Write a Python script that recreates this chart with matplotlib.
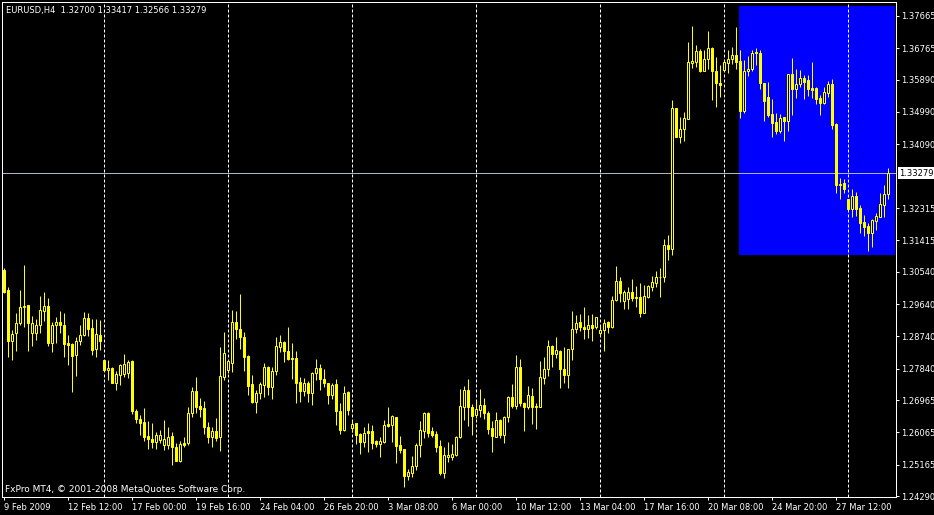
import matplotlib
matplotlib.use("Agg")
import matplotlib.pyplot as plt
from matplotlib.patches import Rectangle
import numpy as np

# EURUSD H4 candles
opens = [1.3059, 1.3003, 1.2861, 1.2883, 1.2911, 1.2956, 1.2961, 1.2883, 1.2883, 1.2906,
         1.2945, 1.2958, 1.2855, 1.2906, 1.2914, 1.2906, 1.2855, 1.2853, 1.2822, 1.2861,
         1.2878, 1.2925, 1.2897, 1.2839, 1.2878, 1.2808, 1.2780, 1.2786, 1.2744, 1.2766,
         1.2769, 1.2772, 1.2805, 1.2666, 1.2644, 1.2635, 1.2596, 1.2588, 1.2580, 1.2585,
         1.2571, 1.2571, 1.2596, 1.2566, 1.2527, 1.2577, 1.2577, 1.2660, 1.2722, 1.2680,
         1.2674, 1.2621, 1.2594, 1.2610, 1.2594, 1.2761, 1.2780, 1.2800, 1.2914, 1.2894,
         1.2872, 1.2819, 1.2741, 1.2691, 1.2716, 1.2738, 1.2789, 1.2733, 1.2777, 1.2844,
         1.2858, 1.2833, 1.2814, 1.2814, 1.2747, 1.2722, 1.2744, 1.2716, 1.2772, 1.2786,
         1.2755, 1.2744, 1.2711, 1.2741, 1.2666, 1.2613, 1.2719, 1.2619, 1.2633, 1.2602,
         1.2580, 1.2610, 1.2610, 1.2582, 1.2574, 1.2580, 1.2630, 1.2627, 1.2649, 1.2571,
         1.2560, 1.2485, 1.2493, 1.2513, 1.2571, 1.2610, 1.2660, 1.2610, 1.2602, 1.2568,
         1.2493, 1.2538, 1.2538, 1.2543, 1.2594, 1.2677, 1.2725, 1.2677, 1.2655, 1.2669,
         1.2683, 1.2660, 1.2619, 1.2594, 1.2641, 1.2599, 1.2649, 1.2705, 1.2680, 1.2789,
         1.2688, 1.2677, 1.2708, 1.2677, 1.2677, 1.2758, 1.2783, 1.2847, 1.2825, 1.2833,
         1.2783, 1.2766, 1.2839, 1.2894, 1.2914, 1.2900, 1.2894, 1.2906, 1.2900, 1.2883,
         1.2892, 1.2914, 1.2900, 1.2975, 1.3028, 1.2972, 1.2978, 1.2998, 1.2984, 1.2984,
         1.2939, 1.2984, 1.3011, 1.3023, 1.3040, 1.3039, 1.3128, 1.3117, 1.3510, 1.3429,
         1.3452, 1.3479, 1.3635, 1.3638, 1.3669, 1.3613, 1.3647, 1.3677, 1.3613, 1.3580,
         1.3616, 1.3635, 1.3647, 1.3658, 1.3641, 1.3502, 1.3613, 1.3619, 1.3666, 1.3663,
         1.3580, 1.3541, 1.3493, 1.3471, 1.3446, 1.3485, 1.3474, 1.3605, 1.3563, 1.3577,
         1.3594, 1.3588, 1.3566, 1.3566, 1.3538, 1.3524, 1.3552, 1.3577, 1.3466, 1.3298,
         1.3301, 1.3257, 1.3229, 1.3265, 1.3232, 1.3193, 1.3181, 1.3162, 1.3195, 1.3206,
         1.3240, 1.32700]
highs = [1.3064, 1.3011, 1.2892, 1.2939, 1.3003, 1.3073, 1.2961, 1.2931, 1.2922, 1.2986,
         1.2998, 1.2981, 1.2914, 1.2928, 1.2945, 1.2939, 1.2878, 1.2855, 1.2872, 1.2906,
         1.2942, 1.2939, 1.2922, 1.2922, 1.2920, 1.2808, 1.2808, 1.2789, 1.2777, 1.2797,
         1.2825, 1.2808, 1.2808, 1.2672, 1.2655, 1.2674, 1.2638, 1.2633, 1.2607, 1.2613,
         1.2641, 1.2621, 1.2607, 1.2577, 1.2582, 1.2594, 1.2677, 1.2733, 1.2761, 1.2702,
         1.2694, 1.2635, 1.2621, 1.2647, 1.2844, 1.2886, 1.2808, 1.2947, 1.2945, 1.2992,
         1.2886, 1.2822, 1.2766, 1.2725, 1.2747, 1.2800, 1.2791, 1.2789, 1.2872, 1.2878,
         1.2861, 1.2900, 1.2855, 1.2833, 1.2761, 1.2758, 1.2750, 1.2775, 1.2811, 1.2797,
         1.2783, 1.2744, 1.2744, 1.2755, 1.2688, 1.2736, 1.2722, 1.2641, 1.2633, 1.2605,
         1.2621, 1.2633, 1.2627, 1.2585, 1.2594, 1.2641, 1.2677, 1.2655, 1.2649, 1.2596,
         1.2560, 1.2504, 1.2541, 1.2577, 1.2638, 1.2663, 1.2663, 1.2621, 1.2610, 1.2585,
         1.2566, 1.2580, 1.2574, 1.2596, 1.2727, 1.2736, 1.2755, 1.2685, 1.2697, 1.2727,
         1.2702, 1.2666, 1.2638, 1.2663, 1.2644, 1.2652, 1.2708, 1.2741, 1.2822, 1.2811,
         1.2691, 1.2736, 1.2730, 1.2688, 1.2805, 1.2816, 1.2864, 1.2850, 1.2872, 1.2836,
         1.2844, 1.2839, 1.2945, 1.2933, 1.2936, 1.2956, 1.2933, 1.2936, 1.2928, 1.2903,
         1.2922, 1.2917, 1.2986, 1.3070, 1.3039, 1.3003, 1.3011, 1.3034, 1.3014, 1.3023,
         1.3017, 1.3017, 1.3042, 1.3056, 1.3064, 1.3145, 1.3156, 1.3532, 1.3510, 1.3485,
         1.3499, 1.3694, 1.3739, 1.3686, 1.3675, 1.3672, 1.3725, 1.3680, 1.3652, 1.3630,
         1.3644, 1.3672, 1.3680, 1.3736, 1.3672, 1.3644, 1.3655, 1.3672, 1.3677, 1.3672,
         1.3580, 1.3583, 1.3535, 1.3496, 1.3493, 1.3485, 1.3605, 1.3649, 1.3619, 1.3616,
         1.3602, 1.3602, 1.3638, 1.3569, 1.3546, 1.3569, 1.3585, 1.3591, 1.3468, 1.3315,
         1.3312, 1.3257, 1.3284, 1.3276, 1.3240, 1.3212, 1.3190, 1.3201, 1.3218, 1.3273,
         1.3296, 1.33417]
lows = [1.2995, 1.2816, 1.2808, 1.2833, 1.2906, 1.2900, 1.2833, 1.2847, 1.2864, 1.2883,
        1.2917, 1.2847, 1.2830, 1.2855, 1.2883, 1.2816, 1.2794, 1.2719, 1.2764, 1.2850,
        1.2875, 1.2875, 1.2822, 1.2816, 1.2836, 1.2780, 1.2752, 1.2744, 1.2725, 1.2738,
        1.2761, 1.2758, 1.2658, 1.2633, 1.2599, 1.2582, 1.2560, 1.2563, 1.2560, 1.2577,
        1.2557, 1.2560, 1.2516, 1.2527, 1.2524, 1.2566, 1.2571, 1.2649, 1.2660, 1.2649,
        1.2602, 1.2577, 1.2566, 1.2582, 1.2555, 1.2752, 1.2772, 1.2775, 1.2867, 1.2839,
        1.2777, 1.2711, 1.2688, 1.2660, 1.2699, 1.2705, 1.2711, 1.2699, 1.2766, 1.2830,
        1.2802, 1.2808, 1.2755, 1.2688, 1.2691, 1.2708, 1.2691, 1.2683, 1.2752, 1.2725,
        1.2733, 1.2685, 1.2699, 1.2627, 1.2602, 1.2610, 1.2655, 1.2607, 1.2574, 1.2546,
        1.2566, 1.2552, 1.2560, 1.2566, 1.2538, 1.2577, 1.2621, 1.2580, 1.2521, 1.2549,
        1.2454, 1.2474, 1.2482, 1.2502, 1.2538, 1.2591, 1.2594, 1.2594, 1.2552, 1.2488,
        1.2479, 1.2524, 1.2529, 1.2541, 1.2591, 1.2641, 1.2624, 1.2599, 1.2647, 1.2649,
        1.2644, 1.2602, 1.2552, 1.2594, 1.2591, 1.2577, 1.2635, 1.2674, 1.2672, 1.2680,
        1.2610, 1.2672, 1.2630, 1.2616, 1.2677, 1.2741, 1.2764, 1.2789, 1.2814, 1.2730,
        1.2744, 1.2730, 1.2808, 1.2883, 1.2889, 1.2867, 1.2869, 1.2861, 1.2894, 1.2875,
        1.2833, 1.2883, 1.2897, 1.2972, 1.2970, 1.2950, 1.2950, 1.2972, 1.2956, 1.2928,
        1.2939, 1.2981, 1.3000, 1.3011, 1.2984, 1.3025, 1.3087, 1.3101, 1.3429, 1.3413,
        1.3418, 1.3479, 1.3622, 1.3624, 1.3611, 1.3613, 1.3619, 1.3532, 1.3513, 1.3541,
        1.3613, 1.3608, 1.3633, 1.3619, 1.3482, 1.3496, 1.3599, 1.3613, 1.3630, 1.3563,
        1.3474, 1.3485, 1.3429, 1.3438, 1.3440, 1.3418, 1.3446, 1.3491, 1.3538, 1.3569,
        1.3535, 1.3544, 1.3538, 1.3521, 1.3491, 1.3521, 1.3541, 1.3452, 1.3273, 1.3257,
        1.3273, 1.3229, 1.3206, 1.3209, 1.3162, 1.3154, 1.3112, 1.3123, 1.3170, 1.3206,
        1.3206, 1.32566]
closes = [1.2998, 1.2861, 1.2881, 1.2911, 1.2956, 1.2958, 1.2911, 1.2911, 1.2906, 1.2947,
          1.2958, 1.2855, 1.2906, 1.2914, 1.2906, 1.2853, 1.2850, 1.2819, 1.2861, 1.2878,
          1.2925, 1.2894, 1.2836, 1.2881, 1.2861, 1.2780, 1.2786, 1.2744, 1.2769, 1.2794,
          1.2797, 1.2802, 1.2666, 1.2644, 1.2633, 1.2594, 1.2588, 1.2580, 1.2599, 1.2599,
          1.2588, 1.2594, 1.2566, 1.2527, 1.2574, 1.2571, 1.2660, 1.2722, 1.2677, 1.2672,
          1.2621, 1.2594, 1.2610, 1.2591, 1.2764, 1.2828, 1.2805, 1.2914, 1.2894, 1.2872,
          1.2816, 1.2736, 1.2691, 1.2716, 1.2741, 1.2789, 1.2733, 1.2777, 1.2847, 1.2858,
          1.2833, 1.2811, 1.2811, 1.2744, 1.2722, 1.2744, 1.2716, 1.2772, 1.2786, 1.2755,
          1.2744, 1.2711, 1.2738, 1.2666, 1.2613, 1.2716, 1.2669, 1.2630, 1.2599, 1.2580,
          1.2605, 1.2605, 1.2577, 1.2574, 1.2582, 1.2627, 1.2624, 1.2652, 1.2568, 1.2557,
          1.2485, 1.2496, 1.2513, 1.2571, 1.2613, 1.2660, 1.2605, 1.2599, 1.2566, 1.2493,
          1.2543, 1.2543, 1.2546, 1.2594, 1.2680, 1.2725, 1.2677, 1.2652, 1.2672, 1.2683,
          1.2660, 1.2616, 1.2596, 1.2641, 1.2599, 1.2649, 1.2705, 1.2680, 1.2789, 1.2688,
          1.2677, 1.2711, 1.2677, 1.2680, 1.2761, 1.2783, 1.2847, 1.2825, 1.2836, 1.2783,
          1.2766, 1.2839, 1.2894, 1.2911, 1.2900, 1.2894, 1.2906, 1.2897, 1.2928, 1.2892,
          1.2911, 1.2900, 1.2975, 1.3028, 1.2995, 1.2998, 1.2998, 1.2981, 1.2981, 1.2939,
          1.2986, 1.3014, 1.3025, 1.3039, 1.3038, 1.3128, 1.3117, 1.3510, 1.3429, 1.3452,
          1.3482, 1.3638, 1.3641, 1.3669, 1.3613, 1.3647, 1.3677, 1.3613, 1.3580, 1.3574,
          1.3638, 1.3647, 1.3658, 1.3638, 1.3502, 1.3613, 1.3619, 1.3663, 1.3663, 1.3580,
          1.3530, 1.3491, 1.3468, 1.3446, 1.3482, 1.3474, 1.3605, 1.3563, 1.3577, 1.3594,
          1.3583, 1.3563, 1.3560, 1.3535, 1.3524, 1.3555, 1.3577, 1.3463, 1.3296, 1.3296,
          1.3284, 1.3229, 1.3265, 1.3229, 1.3190, 1.3179, 1.3162, 1.3198, 1.3209, 1.3243,
          1.3270, 1.33279]

date_labels = ["9 Feb 2009", "12 Feb 12:00", "17 Feb 00:00", "19 Feb 16:00",
               "24 Feb 04:00", "26 Feb 20:00", "3 Mar 08:00", "6 Mar 00:00",
               "10 Mar 12:00", "13 Mar 04:00", "17 Mar 16:00", "20 Mar 08:00",
               "24 Mar 20:00", "27 Mar 12:00"]
label_every = 16
price_ticks = [1.37665, 1.36765, 1.35890, 1.34990, 1.34090, 1.32315, 1.31415,
               1.30540, 1.29640, 1.28740, 1.27840, 1.26965, 1.26065, 1.25165, 1.24290]
week_starts = [25, 56, 87, 118, 149, 180, 211]
bid = 1.33279
box_bars = (183.875, 222.875)
box_prices = (1.3100, 1.3794)

o = np.array(opens)
h = np.array(highs)
l = np.array(lows)
c = np.array(closes)
x = np.arange(len(o))
bull = c >= o

fig = plt.figure(figsize=(9.34, 5.15), dpi=100, facecolor="black")
ax = fig.add_axes([2 / 934, 18 / 515, 894 / 934, 495 / 515])
ax.set_facecolor("black")

# blue rectangle object drawn as background
ax.add_patch(Rectangle((box_bars[0], box_prices[0]), box_bars[1] - box_bars[0],
                       box_prices[1] - box_prices[0], facecolor="#0000ff",
                       edgecolor="none", zorder=0))

# weekly separators
for w in week_starts:
    ax.axvline(w, color="white", lw=0.72, linestyle=(0, (3, 2)), zorder=1)

ax.axhline(bid, color="#a8b4c8", lw=0.72, zorder=2)

ax.vlines(x, l, h, color="#ffff00", lw=0.72, zorder=3)
ax.bar(x, np.abs(c - o), bottom=np.minimum(o, c), width=0.5,
       color=np.where(bull, "black", "#ffff00"), edgecolor="#ffff00",
       linewidth=0.72, zorder=4)

ax.set_xlim(-0.375, 223.125)
ax.set_ylim(1.24264, 1.38054)

for s in ax.spines.values():
    s.set_color("white")
    s.set_linewidth(0.72)

ax.yaxis.tick_right()
ax.set_yticks(price_ticks)
ax.set_yticklabels(["%.5f" % p for p in price_ticks])
ax.tick_params(axis="y", colors="white", labelcolor="white", labelsize=6,
               length=2.2, width=0.72, pad=1.5)

ax.set_xticks(np.arange(len(date_labels)) * label_every)
ax.set_xticklabels(date_labels, ha="left")
ax.tick_params(axis="x", colors="white", labelcolor="white", labelsize=6,
               length=2.5, width=0.72, pad=2)

# current bid label on the price scale
ax.text(1.0 + 3.5 / 894, bid, "%.5f" % bid, transform=ax.get_yaxis_transform(),
        ha="left", va="center", fontsize=6, color="black", clip_on=False,
        bbox=dict(facecolor="white", edgecolor="none", pad=1.0))

fig.text(6 / 934, 1 - 10 / 515, "EURUSD,H4  1.32700 1.33417 1.32566 1.33279",
         color="white", fontsize=6, ha="left", va="center")
fig.text(5 / 934, 1 - 489.5 / 515, "FxPro MT4, \u00a9 2001-2008 MetaQuotes Software Corp.",
         color="white", fontsize=6.5, ha="left", va="center")

fig.savefig("out.png", dpi=100, facecolor="black")
